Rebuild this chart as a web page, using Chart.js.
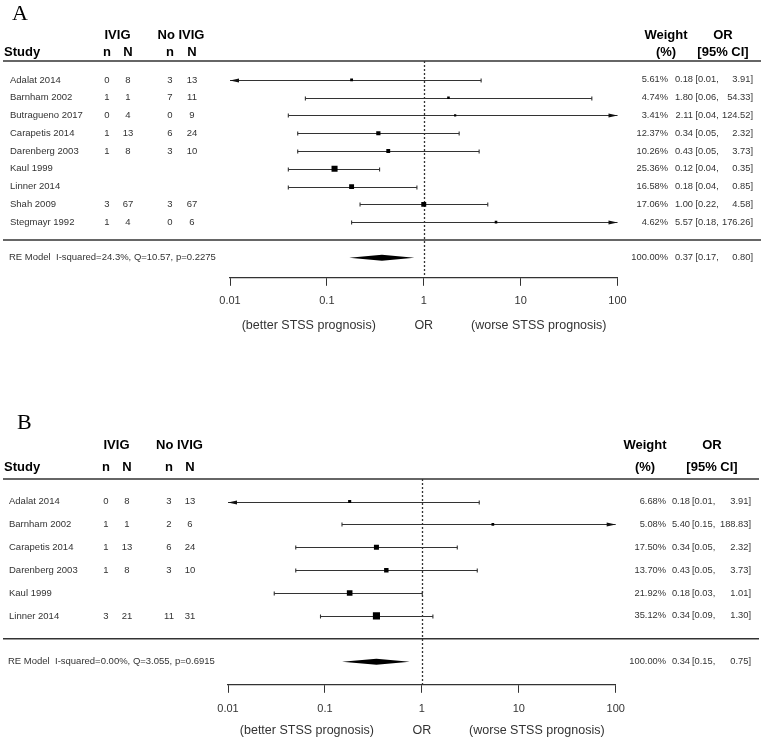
<!DOCTYPE html>
<html>
<head>
<meta charset="utf-8">
<script src="https://cdn.jsdelivr.net/npm/chart.js@4.4.1/dist/chart.umd.min.js"></script>
<style>
  body { margin: 0; background: #fff; }
  canvas { display: block; }
</style>
</head>
<body>
<canvas id="forestA" width="762" height="370"></canvas>
<canvas id="forestB" width="762" height="370"></canvas>
<script>
// ---- panel A data ----
var studiesA = ["Adalat 2014", "Barnham 2002", "Butragueno 2017", "Carapetis 2014", "Darenberg 2003", "Kaul 1999", "Linner 2014", "Shah 2009", "Stegmayr 1992"];
var ivigEventsA = [0, 1, 0, 1, 1, null, null, 3, 1];
var ivigTotalA = [8, 1, 4, 13, 8, null, null, 67, 4];
var ctrlEventsA = [3, 7, 0, 6, 3, null, null, 3, 0];
var ctrlTotalA = [13, 11, 9, 24, 10, null, null, 67, 6];
var weightA = [5.61, 4.74, 3.41, 12.37, 10.26, 25.36, 16.58, 17.06, 4.62];
var orA = [0.18, 1.80, 2.11, 0.34, 0.43, 0.12, 0.18, 1.00, 5.57];
var lowerA = [0.01, 0.06, 0.04, 0.05, 0.05, 0.04, 0.04, 0.22, 0.18];
var upperA = [3.91, 54.33, 124.52, 2.32, 3.73, 0.35, 0.85, 4.58, 176.26];
var summaryA = [0.37, 0.17, 0.80]; // OR, lower, upper
var hetA = "I-squared=24.3%, Q=10.57, p=0.2275";

// ---- panel B data ----
var studiesB = ["Adalat 2014", "Barnham 2002", "Carapetis 2014", "Darenberg 2003", "Kaul 1999", "Linner 2014"];
var ivigEventsB = [0, 1, 1, 1, null, 3];
var ivigTotalB = [8, 1, 13, 8, null, 21];
var ctrlEventsB = [3, 2, 6, 3, null, 11];
var ctrlTotalB = [13, 6, 24, 10, null, 31];
var weightB = [6.68, 5.08, 17.50, 13.70, 21.92, 35.12];
var orB = [0.18, 5.40, 0.34, 0.43, 0.18, 0.34];
var lowerB = [0.01, 0.15, 0.05, 0.05, 0.03, 0.09];
var upperB = [3.91, 188.83, 2.32, 3.73, 1.01, 1.30];
var summaryB = [0.34, 0.15, 0.75];
var hetB = "I-squared=0.00%, Q=3.055, p=0.6915";

var tickVals = [0.01, 0.1, 1, 10, 100];
var tickLabels = ["0.01", "0.1", "1", "10", "100"];

var SANS = "'Liberation Sans', Arial, sans-serif";

function cap(ctx, px, py) {
    ctx.beginPath();
    ctx.moveTo(px, py - 2);
    ctx.lineTo(px, py + 2);
    ctx.stroke();
}

function arrow(ctx, px, py, dir) {
    ctx.beginPath();
    ctx.moveTo(px, py);
    ctx.lineTo(px - dir * 9, py - 2);
    ctx.lineTo(px - dir * 9, py + 2);
    ctx.closePath();
    ctx.fill();
}

function fmt(v) {
    return v === null ? "" : String(v);
}

function makeForest(canvasId, pn) {
    var forestPlugin = {
        id: "forest" + pn.letter,
        beforeDatasetsDraw: function (chart) {
            var ctx = chart.ctx, x = chart.scales.x, y = chart.scales.y, area = chart.chartArea;
            ctx.save();
            // header + separator rules
            ctx.strokeStyle = "#333";
            ctx.lineWidth = 1.4;
            [area.top, y.getPixelForValue(pn.sep)].forEach(function (ly) {
                ctx.beginPath();
                ctx.moveTo(3, ly);
                ctx.lineTo(pn.ruleR, ly);
                ctx.stroke();
            });
            // dotted no-effect line
            var x1 = Math.round(x.getPixelForValue(1)) + 0.5;
            ctx.strokeStyle = "#333";
            ctx.lineWidth = 1.3;
            ctx.setLineDash([2, 2]);
            ctx.beginPath();
            ctx.moveTo(x1, area.top);
            ctx.lineTo(x1, area.bottom);
            ctx.stroke();
            ctx.setLineDash([]);
            // confidence intervals
            ctx.strokeStyle = "#333";
            ctx.fillStyle = "#111";
            ctx.lineWidth = 1.1;
            pn.or.forEach(function (v, i) {
                var py = Math.round(y.getPixelForValue(i)) + 0.5;
                var pl = x.getPixelForValue(Math.max(pn.lo[i], x.min));
                var ph = x.getPixelForValue(Math.min(pn.hi[i], x.max));
                ctx.beginPath();
                ctx.moveTo(pl, py);
                ctx.lineTo(ph, py);
                ctx.stroke();
                if (pn.lo[i] <= x.min) arrow(ctx, pl, py, -1); else cap(ctx, pl, py);
                if (pn.hi[i] >= x.max) arrow(ctx, ph, py, 1); else cap(ctx, ph, py);
            });
            // summary diamond
            var dy = y.getPixelForValue(pn.sep + 1);
            ctx.fillStyle = "#000";
            ctx.beginPath();
            ctx.moveTo(x.getPixelForValue(pn.summary[1]), dy);
            ctx.lineTo(x.getPixelForValue(pn.summary[0]), dy - 3);
            ctx.lineTo(x.getPixelForValue(pn.summary[2]), dy);
            ctx.lineTo(x.getPixelForValue(pn.summary[0]), dy + 3);
            ctx.closePath();
            ctx.fill();
            ctx.restore();
        },
        afterDraw: function (chart) {
            var ctx = chart.ctx, x = chart.scales.x, y = chart.scales.y;
            ctx.save();
            ctx.textBaseline = "middle";
            // panel letter
            ctx.fillStyle = "#000";
            ctx.font = "22px 'Liberation Serif', 'Times New Roman', serif";
            ctx.textAlign = "left";
            ctx.fillText(pn.letter, pn.letterX, pn.letterY);
            // headers
            ctx.font = "bold 13px " + SANS;
            ctx.fillText("Study", 4, pn.head2);
            ctx.textAlign = "center";
            ctx.fillText("IVIG", (pn.cols[0] + pn.cols[1]) / 2, pn.head1);
            ctx.fillText("No IVIG", (pn.cols[2] + pn.cols[3]) / 2, pn.head1);
            ["n", "N", "n", "N"].forEach(function (t, k) {
                ctx.fillText(t, pn.cols[k], pn.head2);
            });
            ctx.fillText("Weight", pn.weightHead, pn.head1);
            ctx.fillText("(%)", pn.weightHead, pn.head2);
            ctx.fillText("OR", pn.orHead, pn.head1);
            ctx.fillText("[95% CI]", pn.orHead, pn.head2);

            function rightCols(w, est, lo, hi, py) {
                ctx.font = "9.3px " + SANS;
                ctx.textAlign = "right";
                ctx.fillText(w, pn.weightX, py);
                ctx.fillText(est.toFixed(2), pn.estX, py);
                ctx.fillText(hi.toFixed(2) + "]", pn.hiX, py);
                ctx.textAlign = "left";
                ctx.fillText("[" + lo.toFixed(2) + ",", pn.estX + pn.gap, py);
                ctx.font = "9.5px " + SANS;
            }

            // study rows
            ctx.font = "9.5px " + SANS;
            ctx.fillStyle = "#333";
            pn.studies.forEach(function (s, i) {
                var py = y.getPixelForValue(i);
                ctx.textAlign = "left";
                ctx.fillText(s, pn.nameX, py);
                ctx.textAlign = "center";
                [pn.ivn, pn.ivN, pn.cn, pn.cN].forEach(function (arr, k) {
                    ctx.fillText(fmt(arr[i]), pn.cols[k], py);
                });
                rightCols(pn.weight[i].toFixed(2) + "%", pn.or[i], pn.lo[i], pn.hi[i], py);
            });
            // summary row
            var sy = y.getPixelForValue(pn.sep + 1);
            ctx.textAlign = "left";
            ctx.fillText("RE Model  " + pn.het, pn.nameX - 1, sy);
            rightCols("100.00%", pn.summary[0], pn.summary[1], pn.summary[2], sy);
            // axis caption
            var cx = x.getPixelForValue(1);
            ctx.font = "12.5px " + SANS;
            ctx.textAlign = "center";
            ctx.fillText("(better STSS prognosis)", cx - 115, pn.captionY);
            ctx.fillText("OR", cx, pn.captionY);
            ctx.fillText("(worse STSS prognosis)", cx + 115, pn.captionY);
            ctx.restore();
        }
    };

    return new Chart(document.getElementById(canvasId).getContext("2d"), {
        type: "scatter",
        data: {
            datasets: [
                {
                    data: pn.or.map(function (v, i) { return { x: v, y: i }; }),
                    pointStyle: "rect",
                    pointRadius: pn.weight.map(function (w) { return 1.2 * Math.sqrt(w) / Math.SQRT2; }),
                    backgroundColor: "#000",
                    borderWidth: 0,
                },
            ],
        },
        options: {
            responsive: false,
            animation: false,
            events: [],
            layout: { padding: { left: pn.left, right: 762 - pn.right, top: pn.top, bottom: pn.bottom } },
            plugins: { legend: { display: false }, tooltip: { enabled: false } },
            scales: {
                x: {
                    type: "logarithmic",
                    min: 0.01,
                    max: 100,
                    afterBuildTicks: function (s) {
                        s.ticks = tickVals.map(function (v) { return { value: v }; });
                    },
                    ticks: {
                        autoSkip: false,
                        maxRotation: 0,
                        padding: pn.tickPad,
                        color: "#333",
                        font: { family: SANS, size: 11 },
                        callback: function (v, i) { return tickLabels[i]; },
                    },
                    grid: { drawOnChartArea: false, drawTicks: true, tickLength: 8, color: "#333", lineWidth: 1 },
                    border: { display: true, color: "#333", width: 1.2 },
                },
                y: { type: "linear", display: false, reverse: true, min: pn.yMin, max: pn.yMax },
            },
        },
        plugins: [forestPlugin],
    });
}

makeForest("forestA", {
    letter: "A", letterX: 12, letterY: 14, head1: 35, head2: 52,
    studies: studiesA, ivn: ivigEventsA, ivN: ivigTotalA, cn: ctrlEventsA, cN: ctrlTotalA,
    weight: weightA, or: orA, lo: lowerA, hi: upperA, summary: summaryA, het: hetA,
    sep: 9, yMin: -1.063, yMax: 11.13,
    left: 230, right: 617.5, top: 61, bottom: 53, tickPad: 9, captionY: 326,
    nameX: 10, cols: [107, 128, 170, 192],
    weightX: 668, estX: 693, gap: 2.5, hiX: 753, weightHead: 666, orHead: 723, ruleR: 761,
});

makeForest("forestB", {
    letter: "B", letterX: 17, letterY: 53, head1: 75, head2: 97,
    studies: studiesB, ivn: ivigEventsB, ivN: ivigTotalB, cn: ctrlEventsB, cN: ctrlTotalB,
    weight: weightB, or: orB, lo: lowerB, hi: upperB, summary: summaryB, het: hetB,
    sep: 6, yMin: -0.987, yMax: 8.013,
    left: 228, right: 615.7, top: 109, bottom: 14, tickPad: 10, captionY: 361,
    nameX: 9, cols: [106, 127, 169, 190],
    weightX: 666, estX: 690, gap: 2, hiX: 751, weightHead: 645, orHead: 712, ruleR: 759,
});
</script>
</body>
</html>
